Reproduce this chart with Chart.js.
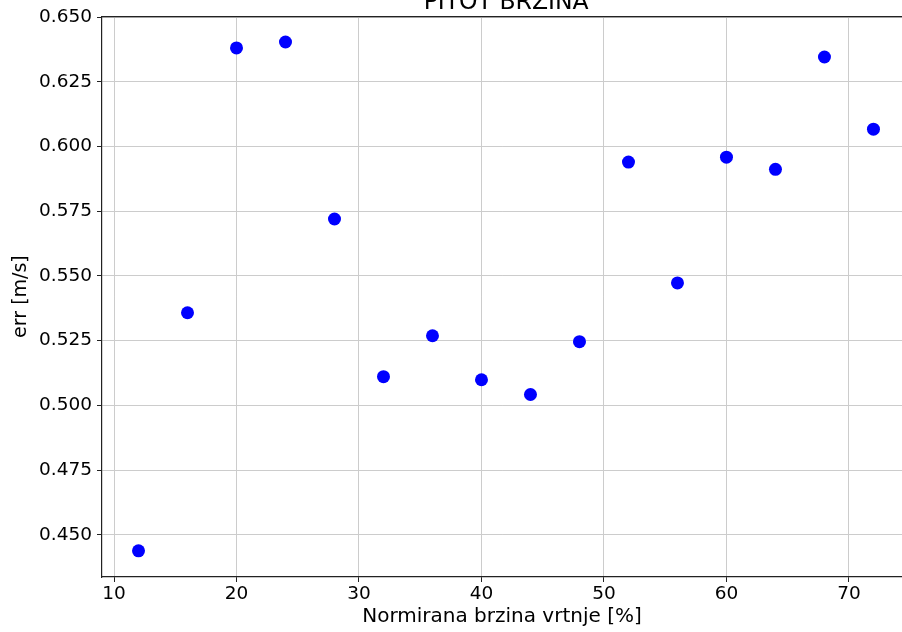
<!DOCTYPE html>
<html>
<head>
<meta charset="utf-8">
<script src="https://cdn.jsdelivr.net/npm/chart.js@4.4.0/dist/chart.umd.min.js"></script>
<style>
html, body { margin: 0; padding: 0; background: #fff; width: 902px; height: 632px; overflow: hidden; }
canvas { display: block; }
</style>
</head>
<body>
<canvas id="c" width="902" height="632"></canvas>
<script>
const chartTitle = 'PITOT BRZINA';
const xLabel = 'Normirana brzina vrtnje [%]';
const yLabel = 'err [m/s]';
const speeds = [12, 16, 20, 24, 28, 32, 36, 40, 44, 48, 52, 56, 60, 64, 68, 72];
const errors = [0.4438, 0.5358, 0.6381, 0.6404, 0.5720, 0.5111, 0.5269, 0.5099, 0.5042, 0.5246, 0.5940, 0.5473, 0.5959, 0.5912, 0.6346, 0.6067];
const xTicks = [10, 20, 30, 40, 50, 60, 70];
const yTicks = [0.450, 0.475, 0.500, 0.525, 0.550, 0.575, 0.600, 0.625, 0.650];

const FONT = 'DejaVu Sans';

const framePlugin = {
  id: 'frame',
  afterDraw(chart) {
    const ctx = chart.ctx;
    const a = chart.chartArea;
    ctx.save();
    ctx.strokeStyle = '#222';
    ctx.lineWidth = 1.2;
    ctx.beginPath();
    ctx.moveTo(a.left, a.top + 0.5);
    ctx.lineTo(a.right, a.top + 0.5);
    ctx.stroke();
    ctx.fillStyle = '#000';
    ctx.font = '23.5px "' + FONT + '"';
    ctx.textAlign = 'center';
    ctx.textBaseline = 'alphabetic';
    const fullRight = chart.scales.x.getPixelForValue(75);
    ctx.fillText(chartTitle, (a.left + fullRight) / 2, 9);
    ctx.restore();
  }
};

new Chart(document.getElementById('c'), {
  type: 'scatter',
  data: {
    datasets: [{
      data: speeds.map((s, i) => ({ x: s, y: errors[i] })),
      backgroundColor: '#0000ff',
      borderColor: '#0000ff',
      borderWidth: 0,
      pointRadius: 6.5,
      pointHoverRadius: 6.5
    }]
  },
  options: {
    responsive: false,
    devicePixelRatio: 1,
    animation: false,
    layout: { autoPadding: false, padding: { top: 15, left: 0, right: 0, bottom: 0 } },
    plugins: { legend: { display: false }, title: { display: false }, tooltip: { enabled: false } },
    scales: {
      x: {
        type: 'linear',
        min: 9.02,
        max: 74.33,
        afterBuildTicks: s => { s.ticks = xTicks.map(v => ({ value: v })); },
        afterFit: s => { s.height = 55; s.paddingLeft = 0; s.paddingRight = 0; },
        grid: { color: '#cccccc', lineWidth: 1, tickLength: 5, tickColor: '#222', drawTicks: true },
        border: { display: true, color: '#222', width: 1.2 },
        ticks: { color: '#000', font: { family: FONT, size: 18.5 }, padding: 1, maxRotation: 0, autoSkip: false },
        title: { display: true, text: xLabel, color: '#000', font: { family: FONT, size: 20 }, padding: { top: 0, bottom: 3 } }
      },
      y: {
        type: 'linear',
        min: 0.4337,
        max: 0.6504,
        afterBuildTicks: s => { s.ticks = yTicks.map(v => ({ value: v })); },
        afterFit: s => { s.width = 102; },
        grid: { color: '#cccccc', lineWidth: 1, tickLength: 5, tickColor: '#222', drawTicks: true },
        border: { display: true, color: '#222', width: 1.2 },
        ticks: { color: '#000', font: { family: FONT, size: 18.5 }, padding: 5, autoSkip: false, callback: v => Number(v).toFixed(3) },
        title: { display: true, text: yLabel, color: '#000', font: { family: FONT, size: 19 }, padding: { top: 10, bottom: 0 } }
      }
    }
  },
  plugins: [framePlugin]
});
</script>
</body>
</html>
